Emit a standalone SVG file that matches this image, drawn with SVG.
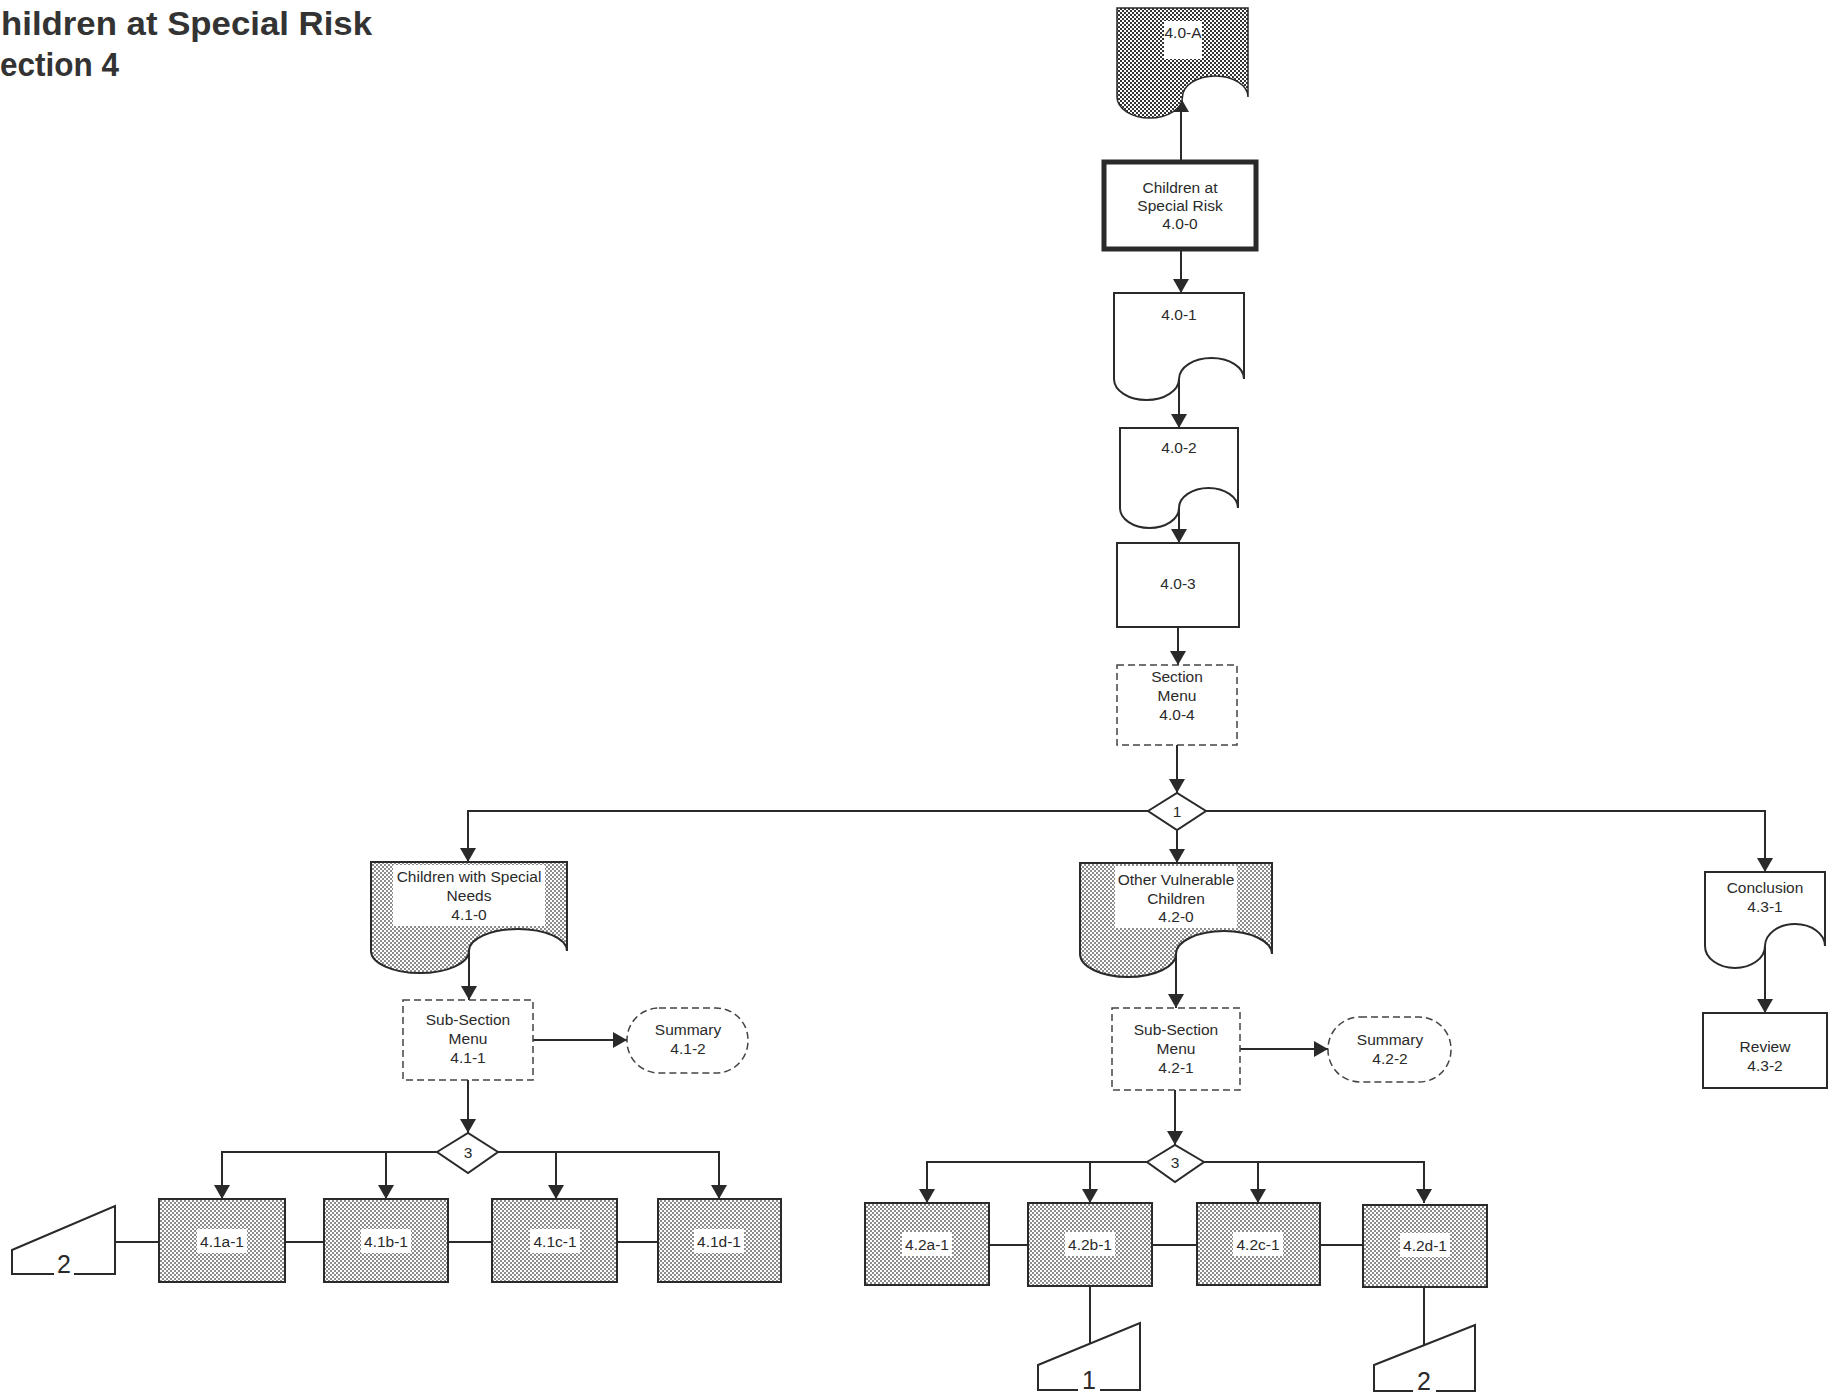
<svg xmlns="http://www.w3.org/2000/svg" width="1833" height="1395" viewBox="0 0 1833 1395">
<style>
text{font-family:"Liberation Sans",Arial,sans-serif;font-size:15.5px;fill:#2a2a2a;text-anchor:middle}
.title{font-size:33px;font-weight:bold;text-anchor:start;fill:#333}
.big{font-size:25px}
.shape{fill:#fff;stroke:#2a2a2a;stroke-width:2}
.thick{stroke-width:5}
.dash{fill:#fff;stroke:#444;stroke-width:1.5;stroke-dasharray:7 4}
.dark{fill:url(#hatchDark);stroke:#2a2a2a;stroke-width:1.5}
.lite{fill:url(#hatchLite);stroke:#2a2a2a;stroke-width:2}
.lbl{fill:#fff;stroke:none}
.ln{fill:none;stroke:#2a2a2a;stroke-width:2}
.arr{fill:none;stroke:#2a2a2a;stroke-width:2;marker-end:url(#ah)}
</style>
<defs>
<pattern id="hatchDark" width="4" height="4" patternUnits="userSpaceOnUse">
<rect width="4" height="4" fill="#fff"/>
<rect width="2" height="2" fill="#333"/>
<rect x="2" y="2" width="2" height="2" fill="#333"/>
</pattern>
<pattern id="hatchLite" width="4" height="4" patternUnits="userSpaceOnUse">
<rect width="4" height="4" fill="#fff"/>
<rect width="2" height="2" fill="#8c8c8c"/>
<rect x="2" y="2" width="2" height="2" fill="#8c8c8c"/>
</pattern>
<marker id="ah" markerUnits="userSpaceOnUse" markerWidth="16" markerHeight="16" refX="14" refY="8" orient="auto">
<path d="M0,0 L14,8 L0,16 z" fill="#2a2a2a"/>
</marker>
</defs>

<g id="title">
<text class="title" x="1" y="35" textLength="371" lengthAdjust="spacingAndGlyphs">hildren at Special Risk</text>
<text class="title" x="0" y="76" textLength="119" lengthAdjust="spacingAndGlyphs">ection 4</text>
</g>

<g id="connectors">
<path class="arr" d="M1181,161 V98"/>
<path class="arr" d="M1181,250 V293"/>
<path class="arr" d="M1179,379 V428"/>
<path class="arr" d="M1179,508 V543"/>
<path class="arr" d="M1178,627 V665"/>
<path class="arr" d="M1177,745 V793"/>
<path class="arr" d="M1148,811 H468 V862"/>
<path class="arr" d="M1206,811 H1765 V872"/>
<path class="arr" d="M1177,830 V863"/>
<path class="arr" d="M469,951 V1000"/>
<path class="arr" d="M533,1040 H627"/>
<path class="arr" d="M468,1080 V1133"/>
<path class="arr" d="M437,1152 H222 V1199"/>
<path class="arr" d="M386,1152 V1199"/>
<path class="arr" d="M498,1152 H719 V1199"/>
<path class="arr" d="M556,1152 V1199"/>
<path class="ln" d="M115,1242 H159 M285,1242 H324 M448,1242 H492 M617,1242 H658"/>
<path class="arr" d="M1176,954 V1008"/>
<path class="arr" d="M1240,1049 H1328"/>
<path class="arr" d="M1175,1090 V1145"/>
<path class="arr" d="M1147,1162 H927 V1203"/>
<path class="arr" d="M1090,1162 V1203"/>
<path class="arr" d="M1204,1162 H1424 V1203"/>
<path class="arr" d="M1258,1162 V1203"/>
<path class="ln" d="M989,1245 H1028 M1152,1245 H1197 M1320,1245 H1363"/>
<path class="ln" d="M1090,1286 V1343"/>
<path class="ln" d="M1424,1286 V1345"/>
<path class="arr" d="M1765,946 V1013"/>
</g>

<g id="n40A">
<path class="dark" d="M1117,8 H1248 V97 A32.75,21 0 0 0 1182.5,97 A32.75,21 0 0 1 1117,97 Z"/>
<rect class="lbl" x="1164" y="21" width="38" height="38"/>
<text x="1183" y="38">4.0-A</text>
</g>

<g id="n400">
<rect class="shape thick" x="1104" y="162" width="152" height="87"/>
<text x="1180" y="193">Children at</text>
<text x="1180" y="211">Special Risk</text>
<text x="1180" y="229">4.0-0</text>
</g>

<g id="n401">
<path class="shape" d="M1114,293 H1244 V379 A32.5,21 0 0 0 1179,379 A32.5,21 0 0 1 1114,379 Z"/>
<text x="1179" y="320">4.0-1</text>
</g>

<g id="n402">
<path class="shape" d="M1120,428 H1238 V508 A29.5,20 0 0 0 1179,508 A29.5,20 0 0 1 1120,508 Z"/>
<text x="1179" y="453">4.0-2</text>
</g>

<g id="n403">
<rect class="shape" x="1117" y="543" width="122" height="84"/>
<text x="1178" y="589">4.0-3</text>
</g>

<g id="n404">
<rect class="dash" x="1117" y="665" width="120" height="80"/>
<text x="1177" y="682">Section</text>
<text x="1177" y="701">Menu</text>
<text x="1177" y="720">4.0-4</text>
</g>

<g id="d1">
<path class="shape" d="M1148,811 L1177,793 L1206,811 L1177,830 Z"/>
<text x="1177" y="817">1</text>
</g>

<g id="n410">
<path class="lite thick" d="M371,862 H567 V951 A49,22 0 0 0 469,951 A49,22 0 0 1 371,951 Z"/>
<rect class="lbl" x="393" y="865" width="152" height="61"/>
<text x="469" y="882">Children with Special</text>
<text x="469" y="901">Needs</text>
<text x="469" y="920">4.1-0</text>
</g>

<g id="n411">
<rect class="dash" x="403" y="1000" width="130" height="80"/>
<text x="468" y="1025">Sub-Section</text>
<text x="468" y="1044">Menu</text>
<text x="468" y="1063">4.1-1</text>
</g>

<g id="n412">
<rect class="dash" x="627" y="1008" width="121" height="65" rx="32" ry="32"/>
<text x="688" y="1035">Summary</text>
<text x="688" y="1054">4.1-2</text>
</g>

<g id="d3a">
<path class="shape" d="M437,1152 L468,1133 L498,1152 L468,1173 Z"/>
<text x="468" y="1158">3</text>
</g>

<g id="n41a">
<rect class="lite" x="159" y="1199" width="126" height="83"/>
<rect class="lbl" x="197" y="1229" width="50" height="24"/>
<text x="222" y="1247">4.1a-1</text>
</g>
<g id="n41b">
<rect class="lite" x="324" y="1199" width="124" height="83"/>
<rect class="lbl" x="361" y="1229" width="50" height="24"/>
<text x="386" y="1247">4.1b-1</text>
</g>
<g id="n41c">
<rect class="lite" x="492" y="1199" width="125" height="83"/>
<rect class="lbl" x="530" y="1229" width="50" height="24"/>
<text x="555" y="1247">4.1c-1</text>
</g>
<g id="n41d">
<rect class="lite" x="658" y="1199" width="123" height="83"/>
<rect class="lbl" x="694" y="1229" width="50" height="24"/>
<text x="719" y="1247">4.1d-1</text>
</g>

<g id="off2a">
<path class="ln" d="M74,1274 H115 V1206 L12,1250 V1274 H54"/>
<text class="big" x="64" y="1273">2</text>
</g>

<g id="n420">
<path class="lite thick" d="M1080,863 H1272 V954 A48,23 0 0 0 1176,954 A48,23 0 0 1 1080,954 Z"/>
<rect class="lbl" x="1115" y="866" width="122" height="62"/>
<text x="1176" y="885">Other Vulnerable</text>
<text x="1176" y="904">Children</text>
<text x="1176" y="922">4.2-0</text>
</g>

<g id="n421">
<rect class="dash" x="1112" y="1008" width="128" height="82"/>
<text x="1176" y="1035">Sub-Section</text>
<text x="1176" y="1054">Menu</text>
<text x="1176" y="1073">4.2-1</text>
</g>

<g id="n422">
<rect class="dash" x="1328" y="1017" width="123" height="65" rx="32" ry="32"/>
<text x="1390" y="1045">Summary</text>
<text x="1390" y="1064">4.2-2</text>
</g>

<g id="d3b">
<path class="shape" d="M1147,1162 L1175,1145 L1204,1162 L1175,1182 Z"/>
<text x="1175" y="1168">3</text>
</g>

<g id="n42a">
<rect class="lite" x="865" y="1203" width="124" height="82"/>
<rect class="lbl" x="902" y="1232" width="50" height="24"/>
<text x="927" y="1250">4.2a-1</text>
</g>
<g id="n42b">
<rect class="lite" x="1028" y="1203" width="124" height="83"/>
<rect class="lbl" x="1065" y="1232" width="50" height="24"/>
<text x="1090" y="1250">4.2b-1</text>
</g>
<g id="n42c">
<rect class="lite" x="1197" y="1203" width="123" height="82"/>
<rect class="lbl" x="1233" y="1232" width="50" height="24"/>
<text x="1258" y="1250">4.2c-1</text>
</g>
<g id="n42d">
<rect class="lite" x="1363" y="1205" width="124" height="82"/>
<rect class="lbl" x="1400" y="1233" width="50" height="24"/>
<text x="1425" y="1251">4.2d-1</text>
</g>

<g id="off1">
<path class="ln" d="M1100,1390 H1140 V1323 L1038,1365 V1390 H1078"/>
<text class="big" x="1089" y="1389">1</text>
</g>

<g id="off2b">
<path class="ln" d="M1436,1391 H1475 V1325 L1374,1365 V1391 H1413"/>
<text class="big" x="1424" y="1390">2</text>
</g>

<g id="n431">
<path class="shape" d="M1705,872 H1825 V946 A30,22 0 0 0 1765,946 A30,22 0 0 1 1705,946 Z"/>
<text x="1765" y="893">Conclusion</text>
<text x="1765" y="912">4.3-1</text>
</g>

<g id="n432">
<rect class="shape" x="1703" y="1013" width="124" height="75"/>
<text x="1765" y="1052">Review</text>
<text x="1765" y="1071">4.3-2</text>
</g>
</svg>
